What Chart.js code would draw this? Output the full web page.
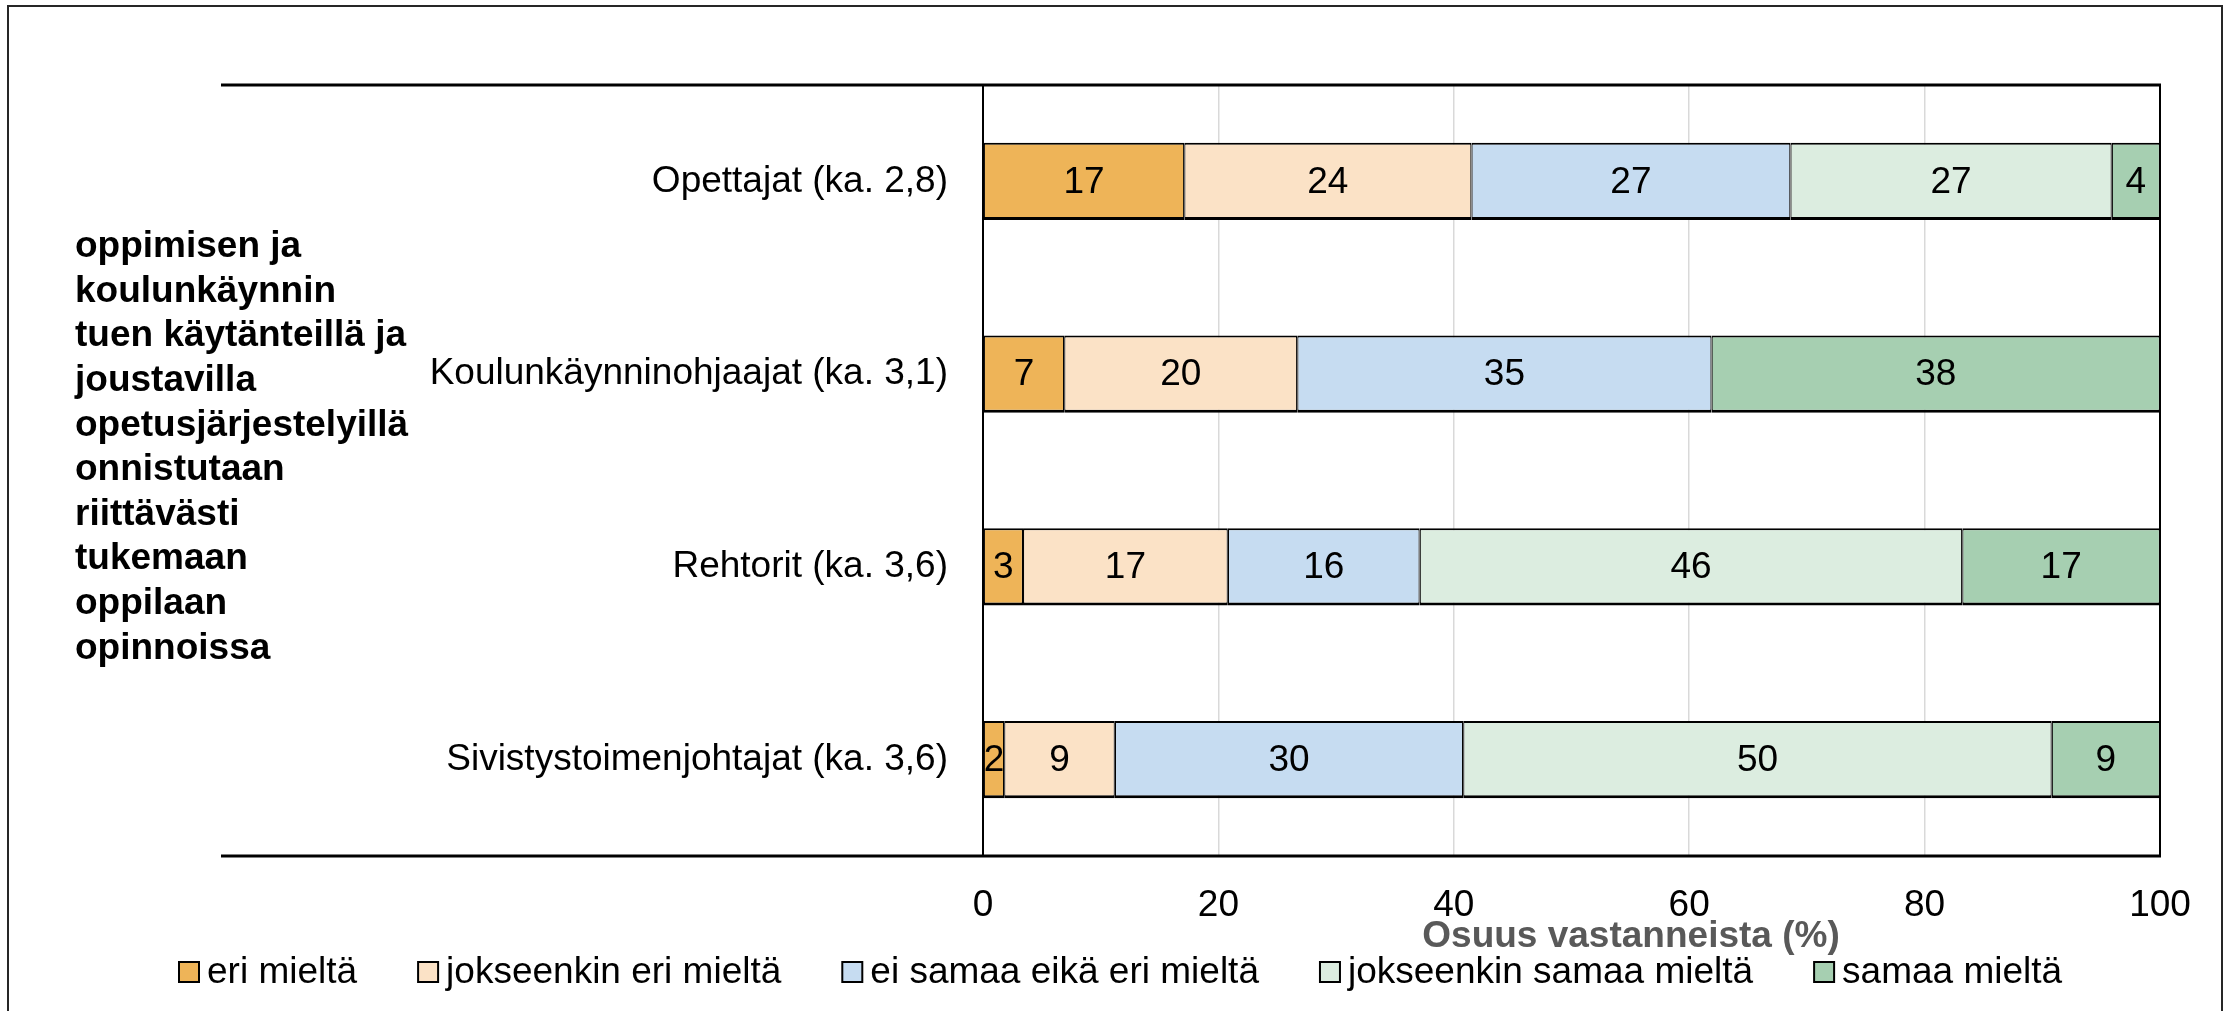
<!DOCTYPE html>
<html>
<head>
<meta charset="utf-8">
<script src="https://cdn.jsdelivr.net/npm/chart.js@4/dist/chart.umd.min.js"></script>
<style>
  html, body { margin: 0; padding: 0; background: #ffffff; }
  #wrap { width: 2229px; height: 1011px; position: relative; }
</style>
</head>
<body>
<div id="wrap"><canvas id="c" width="2229" height="1011"></canvas></div>
<script>
// ---- Data ----
const categories = [
  'Opettajat (ka. 2,8)',
  'Koulunkäynninohjaajat (ka. 3,1)',
  'Rehtorit (ka. 3,6)',
  'Sivistystoimenjohtajat (ka. 3,6)'
];
const seriesNames = [
  'eri mieltä',
  'jokseenkin eri mieltä',
  'ei samaa eikä eri mieltä',
  'jokseenkin samaa mieltä',
  'samaa mieltä'
];
const eriMielta        = [17.1,  6.9,  3.4,  1.8];
const jokseenkinEri    = [24.4, 19.8, 17.4,  9.4];
const eiSamaaEikaEri   = [27.1, 35.2, 16.3, 29.6];
const jokseenkinSamaa  = [27.3,  0.0, 46.1, 50.0];
const samaaMielta      = [ 4.1, 38.1, 16.8,  9.2];
const xTicks = [0, 20, 40, 60, 80, 100];
const questionLines = [
  'oppimisen ja',
  'koulunkäynnin',
  'tuen käytänteillä ja',
  'joustavilla',
  'opetusjärjestelyillä',
  'onnistutaan',
  'riittävästi',
  'tukemaan',
  'oppilaan',
  'opinnoissa'
];
const xAxisTitle = 'Osuus vastanneista (%)';

// ---- Styles ----
const colors = ['#EEB458', '#FBE2C6', '#C6DCF1', '#DCEDE0', '#A6CFB1'];
const FONT = "'Liberation Sans', Arial, sans-serif";
const FS = 37;

const seriesData = [eriMielta, jokseenkinEri, eiSamaaEikaEri, jokseenkinSamaa, samaaMielta];

const datasets = seriesData.map((d, i) => ({
  label: seriesNames[i],
  data: d,
  backgroundColor: colors[i],
  borderColor: '#000000',
  borderWidth: {top: 2, bottom: 3, left: 1.2, right: 1.2},
  borderSkipped: false,
  barPercentage: 0.4,
  categoryPercentage: 1.0
}));

const decorPlugin = {
  id: 'decor',
  beforeDraw(chart) {
    const ctx = chart.ctx;
    ctx.save();
    ctx.fillStyle = '#ffffff';
    ctx.fillRect(0, 0, chart.width, chart.height);
    // outer frame
    ctx.strokeStyle = '#262626';
    ctx.lineWidth = 2;
    ctx.strokeRect(8, 6, 2214, 1020);
    ctx.restore();
  },
  afterDatasetsDraw(chart) {
    const ctx = chart.ctx;
    const ca = chart.chartArea;
    ctx.save();
    // value labels
    ctx.font = FS + 'px ' + FONT;
    ctx.fillStyle = '#000000';
    ctx.textAlign = 'center';
    ctx.textBaseline = 'middle';
    chart.data.datasets.forEach((ds, di) => {
      const meta = chart.getDatasetMeta(di);
      meta.data.forEach((bar, idx) => {
        const v = ds.data[idx];
        if (!v) return;
        const p = bar.getProps(['x', 'y', 'base'], true);
        const cx = (p.x + p.base) / 2;
        ctx.fillText(String(Math.round(v)), cx, p.y + 1);
      });
    });
    // frame lines
    ctx.strokeStyle = '#000000';
    ctx.lineWidth = 2;
    ctx.beginPath();
    ctx.moveTo(ca.left, ca.top);
    ctx.lineTo(ca.left, ca.bottom);
    ctx.moveTo(ca.right, ca.top);
    ctx.lineTo(ca.right, ca.bottom);
    ctx.stroke();
    ctx.lineWidth = 3;
    ctx.beginPath();
    ctx.moveTo(221, ca.top);
    ctx.lineTo(ca.right + 1, ca.top);
    ctx.moveTo(221, ca.bottom);
    ctx.lineTo(ca.right + 1, ca.bottom);
    ctx.stroke();
    ctx.restore();
  },
  afterDraw(chart) {
    const ctx = chart.ctx;
    ctx.save();
    // question text (bold, left)
    ctx.font = 'bold ' + FS + 'px ' + FONT;
    ctx.fillStyle = '#000000';
    ctx.textAlign = 'left';
    ctx.textBaseline = 'middle';
    const lh = 44.6;
    const startY = 247;
    questionLines.forEach((t, i) => ctx.fillText(t, 75, startY + i * lh));
    // x axis title
    ctx.fillStyle = '#595959';
    ctx.textAlign = 'center';
    ctx.fillText(xAxisTitle, 1631, 937);
    // legend
    ctx.font = FS + 'px ' + FONT;
    ctx.textAlign = 'left';
    let x = 179;
    const ly = 972;
    seriesNames.forEach((name, i) => {
      ctx.fillStyle = colors[i];
      ctx.fillRect(x, ly - 10, 20, 20);
      ctx.strokeStyle = '#000000';
      ctx.lineWidth = 2;
      ctx.strokeRect(x, ly - 10, 20, 20);
      ctx.fillStyle = '#000000';
      ctx.fillText(name, x + 28, ly + 1);
      x += 28 + ctx.measureText(name).width + 61;
    });
    ctx.restore();
  }
};

new Chart(document.getElementById('c'), {
  type: 'bar',
  data: { labels: categories, datasets: datasets },
  options: {
    indexAxis: 'y',
    responsive: false,
    animation: false,
    devicePixelRatio: 1,
    layout: { padding: { left: 0, right: 69, top: 85, bottom: 95 } },
    plugins: { legend: { display: false }, tooltip: { enabled: false } },
    scales: {
      x: {
        stacked: true,
        min: 0, max: 100,
        afterBuildTicks(scale) { scale.ticks = xTicks.map(v => ({ value: v })); },
        afterFit(scale) { scale.height = 60; },
        ticks: { color: '#000000', font: { family: FONT, size: FS }, padding: 28, maxRotation: 0 },
        grid: {
          drawTicks: false,
          color: (c) => (c.tick && (c.tick.value === 0 || c.tick.value === 100)) ? 'rgba(0,0,0,0)' : '#d9d9d9',
          lineWidth: 1.5
        },
        border: { display: false }
      },
      y: {
        stacked: true,
        afterFit(scale) { scale.width = 983; },
        ticks: { color: '#000000', font: { family: FONT, size: FS }, padding: 35 },
        grid: { display: false, drawTicks: false },
        border: { display: false }
      }
    }
  },
  plugins: [decorPlugin]
});
</script>
</body>
</html>
